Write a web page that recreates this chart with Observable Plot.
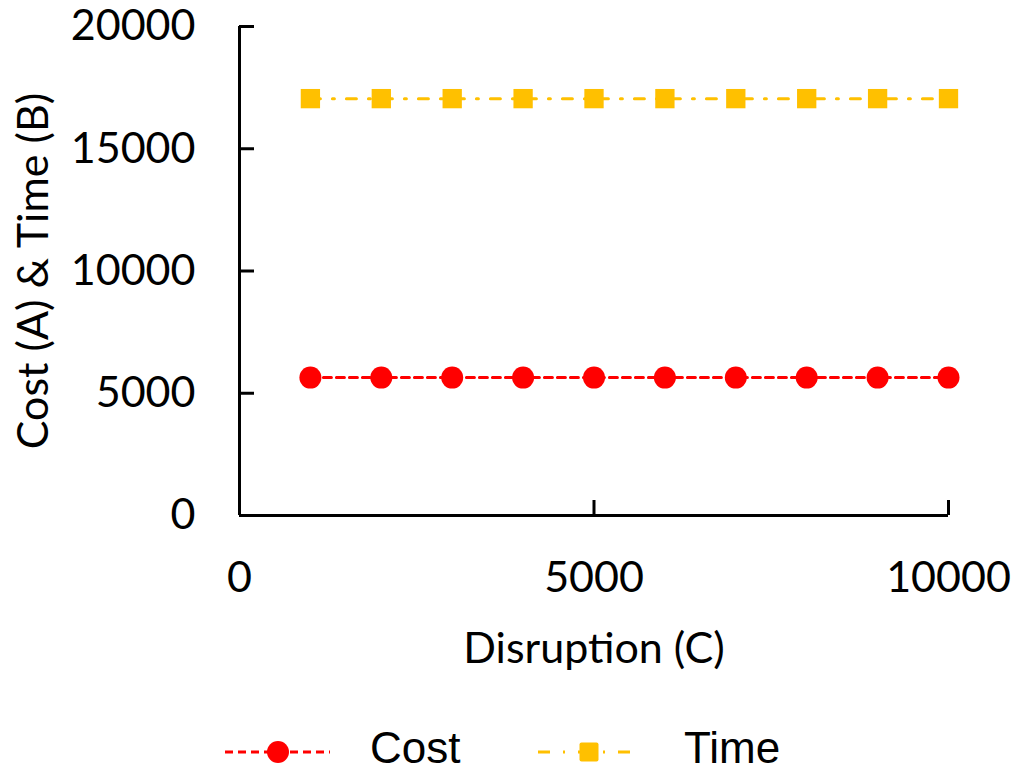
<!DOCTYPE html>
<html><head><meta charset="utf-8">
<script src="https://cdn.jsdelivr.net/npm/d3@7"></script>
<script src="https://cdn.jsdelivr.net/npm/@observablehq/plot@0.6"></script>
<style>
body{margin:0;background:#fff;font-family:Lato,sans-serif;}
#wrap{position:relative;width:1016px;height:771px;overflow:hidden;}
#legend{position:absolute;left:0;top:710px;width:1016px;height:61px;}
#legend .lbl{position:absolute;font-family:"Liberation Sans",Arial,sans-serif;font-size:44px;line-height:40px;color:#000;top:18px;}
</style></head><body>
<div id="wrap"><div id="chart"></div><div id="legend"></div></div>
<script>
const disruption = [1000, 2000, 3000, 4000, 5000, 6000, 7000, 8000, 9000, 10000];
const cost = [5640, 5640, 5640, 5640, 5640, 5640, 5640, 5640, 5640, 5640];
const time = [17050, 17050, 17050, 17050, 17050, 17050, 17050, 17050, 17050, 17050];
const xTicks = [0, 5000, 10000];
const yTicks = [0, 5000, 10000, 15000, 20000];
const seriesNames = ["Cost", "Time"];
const seriesColors = ["#ff0000", "#ffc000"];
const xLabel = "Disruption (C)";
const yLabel = "Cost (A) & Time (B)";

const costData = disruption.map((d, i) => ({x: d, y: cost[i]}));
const timeData = disruption.map((d, i) => ({x: d, y: time[i]}));

const chart = Plot.plot({
  width: 1016, height: 710,
  marginLeft: 239, marginRight: 68, marginTop: 26, marginBottom: 195,
  x: {domain: [0, 10000]},
  y: {domain: [0, 20000]},
  style: {fontFamily: "Lato, sans-serif", fontSize: "43px", color: "#000", background: "#fff", overflow: "visible"},
  marks: [
    Plot.axisY(yTicks, {tickSize: 0, tickPadding: 44, label: null, tickFormat: d => String(d)}),
    Plot.axisY(yTicks, {tickSize: -15, strokeWidth: 3, tickFormat: () => "", label: null}),
    Plot.axisX(xTicks, {tickSize: 0, tickPadding: 46, label: null, tickFormat: d => String(d)}),
    Plot.axisX(xTicks.filter(d => d > 0), {tickSize: -15, strokeWidth: 3, tickFormat: () => "", label: null}),
    Plot.ruleX([0], {y1: 0, y2: 20000, strokeWidth: 3, stroke: "#000"}),
    Plot.ruleY([0], {x1: 0, x2: 10000, strokeWidth: 3, stroke: "#000"}),
    Plot.line(costData, {x: "x", y: "y", stroke: seriesColors[0], strokeWidth: 3, strokeDasharray: "8,5"}),
    Plot.dot(costData, {x: "x", y: "y", r: 11, fill: seriesColors[0], symbol: "circle"}),
    Plot.line(timeData, {x: "x", y: "y", stroke: seriesColors[1], strokeWidth: 3, strokeDasharray: "10,12,2,12"}),
    Plot.dot(timeData, {x: "x", y: "y", r: 10.9, fill: seriesColors[1], symbol: "square"}),
    Plot.text([xLabel], {frameAnchor: "bottom", dy: 134, lineAnchor: "middle", textAnchor: "middle", text: d => d, fontSize: 43}),
    Plot.text([yLabel], {frameAnchor: "left", dx: -205, lineAnchor: "middle", textAnchor: "middle", text: d => d, rotate: -90, fontSize: 43})
  ]
});
document.getElementById("chart").appendChild(chart);

// legend
const legend = document.getElementById("legend");
const ns = "http://www.w3.org/2000/svg";
function sample(left, color, dash, shape) {
  const s = document.createElementNS(ns, "svg");
  s.setAttribute("width", 114); s.setAttribute("height", 40);
  s.style.position = "absolute"; s.style.left = left + "px"; s.style.top = "22px";
  const l = document.createElementNS(ns, "line");
  l.setAttribute("x1", 4); l.setAttribute("x2", 109); l.setAttribute("y1", 20); l.setAttribute("y2", 20);
  l.setAttribute("stroke", color); l.setAttribute("stroke-width", 3); l.setAttribute("stroke-dasharray", dash);
  s.appendChild(l);
  if (shape === "circle") {
    const c = document.createElementNS(ns, "circle");
    c.setAttribute("cx", 57); c.setAttribute("cy", 20); c.setAttribute("r", 11); c.setAttribute("fill", color);
    s.appendChild(c);
  } else {
    const r = document.createElementNS(ns, "rect");
    r.setAttribute("x", 45.5); r.setAttribute("y", 10.5); r.setAttribute("width", 19); r.setAttribute("height", 19);
    r.setAttribute("rx", 2); r.setAttribute("fill", color);
    s.appendChild(r);
  }
  legend.appendChild(s);
}
function label(left, text) {
  const d = document.createElement("div");
  d.className = "lbl"; d.style.left = left + "px"; d.textContent = text;
  legend.appendChild(d);
}
sample(221, seriesColors[0], "8,5", "circle");
label(370, seriesNames[0]);
sample(534, seriesColors[1], "12,13,2,13", "square");
label(684, seriesNames[1]);
</script>
</body></html>
